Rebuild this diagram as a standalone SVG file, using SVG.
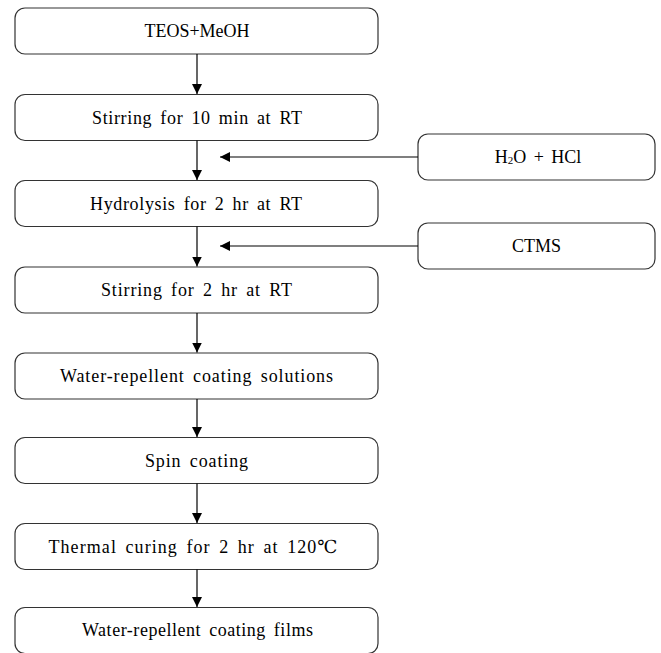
<svg xmlns="http://www.w3.org/2000/svg" width="661" height="653" viewBox="0 0 661 653">
<style>
.box{fill:#fff;stroke:#333;stroke-width:1.2}
.t{font-family:"Liberation Serif","DejaVu Serif",serif;font-size:18px;fill:#000;text-anchor:middle;dominant-baseline:central;word-spacing:3px}
.c{stroke:#000;stroke-width:1.2;fill:none;marker-end:url(#ah)}
</style>
<defs>
<marker id="ah" viewBox="0 0 10 10" refX="10" refY="5" markerWidth="10" markerHeight="10" markerUnits="userSpaceOnUse" orient="auto">
<path d="M0,0 L10,5 L0,10 z" fill="#000"/>
</marker>
</defs>
<rect width="661" height="653" fill="#fff"/>
<g id="n1"><rect class="box" x="15" y="8" width="363" height="46" rx="10"/><text class="t" x="197" y="31" font-size="17">TEOS+MeOH</text></g>
<g id="n2"><rect class="box" x="15" y="94.5" width="363" height="46" rx="10"/><text class="t" x="197" y="117.5" textLength="210" lengthAdjust="spacing">Stirring for 10 min at RT</text></g>
<g id="n3"><rect class="box" x="15" y="180.5" width="363" height="46" rx="10"/><text class="t" x="196" y="203.5" textLength="212" lengthAdjust="spacing">Hydrolysis for 2 hr at RT</text></g>
<g id="n4"><rect class="box" x="15" y="267" width="363" height="46" rx="10"/><text class="t" x="196.5" y="290" textLength="191" lengthAdjust="spacing">Stirring for 2 hr at RT</text></g>
<g id="n5"><rect class="box" x="15" y="353" width="363" height="46" rx="10"/><text class="t" x="196.5" y="376" textLength="273" lengthAdjust="spacing">Water-repellent coating solutions</text></g>
<g id="n6"><rect class="box" x="15" y="437.5" width="363" height="46" rx="10"/><text class="t" x="196.5" y="460.5" textLength="103" lengthAdjust="spacing">Spin coating</text></g>
<g id="n7"><rect class="box" x="15" y="523.5" width="363" height="46" rx="10"/><text class="t" x="193" y="546.5" textLength="289" lengthAdjust="spacing">Thermal curing for 2 hr at 120℃</text></g>
<g id="n8"><rect class="box" x="15" y="607.5" width="363" height="46" rx="10"/><text class="t" x="197.5" y="630" textLength="231" lengthAdjust="spacing">Water-repellent coating films</text></g>
<g id="s1"><rect class="box" x="418" y="134" width="237" height="46" rx="10"/><text class="t" x="538" y="157" font-size="17">H<tspan font-size="11" dy="3">2</tspan><tspan dy="-3">O + HCl</tspan></text></g>
<g id="s2"><rect class="box" x="418" y="223" width="237" height="46" rx="10"/><text class="t" x="536.5" y="246" font-size="17">CTMS</text></g>
<g id="connectors">
<line class="c" x1="197" y1="54" x2="197" y2="94"/>
<line class="c" x1="197" y1="140.5" x2="197" y2="180"/>
<line class="c" x1="197" y1="226.5" x2="197" y2="266.5"/>
<line class="c" x1="197" y1="313" x2="197" y2="352.5"/>
<line class="c" x1="197" y1="399" x2="197" y2="437"/>
<line class="c" x1="197" y1="483.5" x2="197" y2="523"/>
<line class="c" x1="197" y1="569.5" x2="197" y2="607"/>
<line class="c" x1="418" y1="157" x2="220" y2="157"/>
<line class="c" x1="418" y1="246" x2="220" y2="246"/>
</g>
</svg>
